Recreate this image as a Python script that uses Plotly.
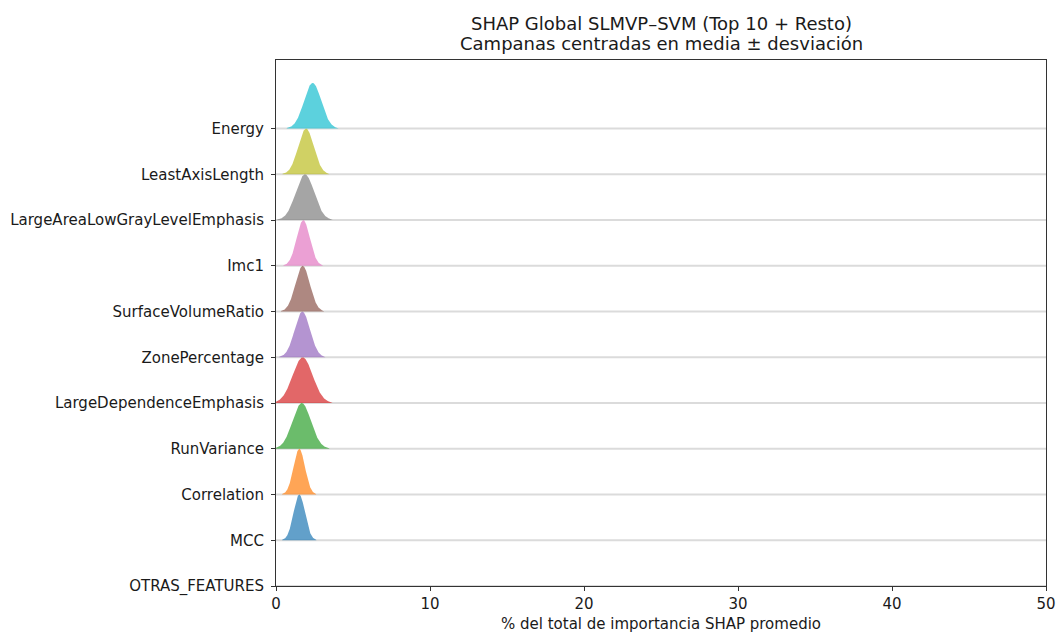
import numpy as np
import plotly.graph_objects as go

# Features from bottom to top (y position = index)
features = ["OTRAS_FEATURES", "MCC", "Correlation", "RunVariance", "LargeDependenceEmphasis",
            "ZonePercentage", "SurfaceVolumeRatio", "Imc1", "LargeAreaLowGrayLevelEmphasis",
            "LeastAxisLength", "Energy"]
# Mean share (%) of total SHAP importance and its standard deviation
mean_pct = [80.5, 1.51, 1.51, 1.67, 1.73, 1.71, 1.73, 1.77, 1.88, 1.95, 2.38]
std_pct = [0.9, 0.37, 0.37, 0.60, 0.65, 0.50, 0.47, 0.43, 0.60, 0.51, 0.56]
colors = ["#7f7f7f", "#1f77b4", "#ff7f0e", "#2ca02c", "#d62728", "#9467bd",
          "#8c564b", "#e377c2", "#7f7f7f", "#bcbd22", "#17becf"]
x_ticks = [0, 10, 20, 30, 40, 50]

BELL_HEIGHT = 1.0
ALPHA = 0.7


def rgba(hex_color, a):
    h = hex_color.lstrip("#")
    r, g, b = int(h[0:2], 16), int(h[2:4], 16), int(h[4:6], 16)
    return f"rgba({r},{g},{b},{a})"


fig = go.Figure()

# light baseline for every feature row
for i, _ in enumerate(features):
    fig.add_trace(go.Scatter(x=[x_ticks[0], x_ticks[-1]], y=[i, i], mode="lines",
                             line=dict(color="rgba(0,0,0,0.14)", width=2),
                             hoverinfo="skip", showlegend=False))

# Gaussian bells centred on mean ± std
for i, (name, m, s, c) in enumerate(zip(features, mean_pct, std_pct, colors)):
    xs = np.linspace(max(m - 3 * s, 0), m + 3 * s, 300)
    pdf = np.exp(-0.5 * ((xs - m) / s) ** 2)
    ys = i + BELL_HEIGHT * pdf
    px = np.concatenate([xs, xs[::-1]])
    py = np.concatenate([ys, np.full_like(xs, i)])
    fig.add_trace(go.Scatter(x=px, y=py, fill="toself", mode="lines",
                             fillcolor=rgba(c, ALPHA), line=dict(width=0),
                             name=name, showlegend=False))

font_family = "DejaVu Sans, Arial, sans-serif"
fig.update_layout(
    width=1056, height=633,
    margin=dict(l=276, r=10, t=60, b=47),
    plot_bgcolor="white", paper_bgcolor="white",
    font=dict(family=font_family, size=15, color="#1a1a1a"),
    showlegend=False,
    xaxis=dict(range=[0, 50], tickvals=x_ticks, showgrid=False, zeroline=False,
               showline=True, mirror=True, linecolor="#333", linewidth=1,
               ticks="outside", ticklen=4, tickcolor="#333", automargin=False,
               ticklabeloverflow="allow", tickfont=dict(size=15),
               title=dict(text="% del total de importancia SHAP promedio",
                          font=dict(size=15), standoff=8)),
    yaxis=dict(range=[0, 11.5], tickvals=list(range(len(features))), ticktext=features,
               showgrid=False, zeroline=False, automargin=False,
               showline=True, mirror=True, linecolor="#333", linewidth=1,
               ticks="outside", ticklen=4, tickcolor="#333", ticklabelstandoff=4,
               tickfont=dict(size=15)),
    annotations=[
        dict(text="SHAP Global SLMVP–SVM (Top 10 + Resto)",
             xref="paper", yref="paper", x=0.5, y=1, yanchor="bottom", yshift=24,
             showarrow=False, font=dict(size=18, color="#1a1a1a")),
        dict(text="Campanas centradas en media ± desviación",
             xref="paper", yref="paper", x=0.5, y=1, yanchor="bottom", yshift=4,
             showarrow=False, font=dict(size=18, color="#1a1a1a")),
    ],
)

fig.write_html("out.html")
